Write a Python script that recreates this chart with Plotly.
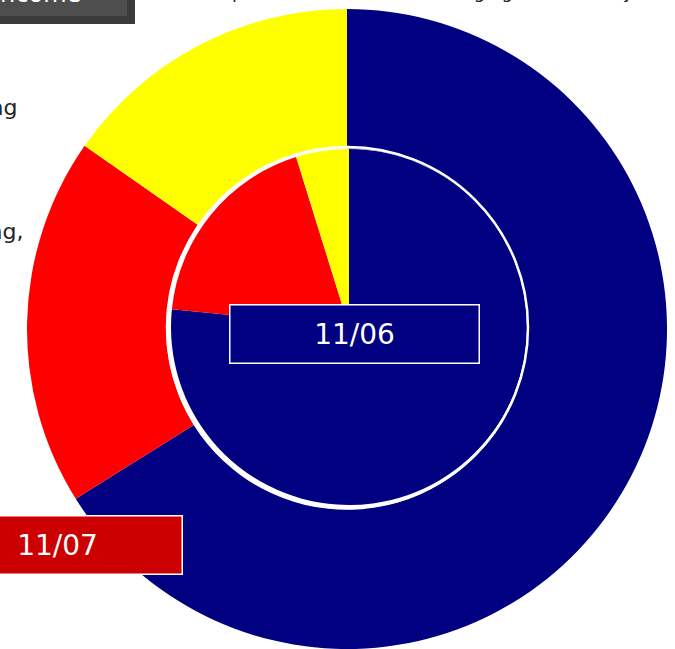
import plotly.graph_objects as go

# shares (percent)
categories = ["Housing", "Clothing", "Other"]
colors = ["#000080", "#FF0000", "#FFFF00"]
months = ["11/07", "11/06"]
share_1107 = [66.1, 18.6, 15.3]
share_1106 = [76.6, 18.6, 4.8]

W, H = 675, 649


def px_x(v):
    return v / W


def px_y(v):
    # pixels from top -> paper y
    return (H - v) / H


fig = go.Figure()

# outer ring: 11/07
fig.add_trace(go.Pie(
    labels=categories,
    values=share_1107,
    name=months[0],
    hole=0.565,
    sort=False,
    direction="clockwise",
    rotation=0,
    marker=dict(colors=colors, line=dict(width=0)),
    textinfo="none",
    hoverinfo="label+percent+name",
    domain=dict(x=[px_x(27), px_x(667)], y=[0, 640 / H]),
))

# inner pie: 11/06
fig.add_trace(go.Pie(
    labels=categories,
    values=share_1106,
    name=months[1],
    sort=False,
    direction="clockwise",
    rotation=0,
    marker=dict(colors=colors, line=dict(width=0)),
    textinfo="none",
    hoverinfo="label+percent+name",
    domain=dict(x=[px_x(171), px_x(527)], y=[px_y(505), px_y(149)]),
))

shapes = [
    # white ring around the inner pie
    dict(type="circle", xref="paper", yref="paper", layer="above",
         x0=px_x(167), x1=px_x(528), y0=px_y(508), y1=px_y(147),
         line=dict(color="white", width=2.5)),
    # bevelled title box, top left
    dict(type="rect", xref="paper", yref="paper", layer="above",
         x0=-0.05, x1=px_x(135), y0=px_y(24), y1=1.05,
         fillcolor="#3b3b3b", line=dict(width=0)),
    dict(type="rect", xref="paper", yref="paper", layer="above",
         x0=-0.05, x1=px_x(127), y0=px_y(16), y1=1.05,
         fillcolor="#4e4e4e", line=dict(width=0)),
]

font = "DejaVu Sans, Tahoma, Verdana, sans-serif"

annotations = [
    dict(text=months[1], x=px_x(354), y=px_y(334), xref="paper", yref="paper",
         xanchor="center", yanchor="middle", showarrow=False,
         font=dict(family=font, size=28, color="white"),
         bgcolor="#000080", bordercolor="white", borderwidth=1.5, borderpad=0,
         width=248, height=57),
    dict(text=months[0], x=px_x(57), y=px_y(545), xref="paper", yref="paper",
         xanchor="center", yanchor="middle", showarrow=False,
         font=dict(family=font, size=28, color="white"),
         bgcolor="#CC0000", bordercolor="white", borderwidth=1.5, borderpad=0,
         width=248, height=57),
    # clipped title text
    dict(text="Income", x=px_x(83), y=px_y(-6), xref="paper", yref="paper",
         xanchor="right", yanchor="middle", showarrow=False,
         font=dict(family=font, size=24, color="white")),
    dict(text="Expense mix of items is changing considerably,",
         x=px_x(208), y=px_y(-8), xref="paper", yref="paper",
         xanchor="left", yanchor="middle", showarrow=False,
         font=dict(family=font, size=18, color="#222222")),
    # clipped legend labels on the left
    dict(text="Housing", x=px_x(19), y=px_y(107), xref="paper", yref="paper",
         xanchor="right", yanchor="middle", showarrow=False,
         font=dict(family=font, size=22, color="#222222")),
    dict(text="Clothing,", x=px_x(26), y=px_y(232), xref="paper", yref="paper",
         xanchor="right", yanchor="middle", showarrow=False,
         font=dict(family=font, size=22, color="#222222")),
]

fig.update_layout(
    width=W,
    height=H,
    margin=dict(l=0, r=0, t=0, b=0),
    paper_bgcolor="white",
    plot_bgcolor="white",
    showlegend=False,
    shapes=shapes,
    annotations=annotations,
)

# drop the default page margin so the figure sits at the window's corner
fig.write_html("out.html", config={"displayModeBar": False},
               post_script="document.body.style.margin='0';")
